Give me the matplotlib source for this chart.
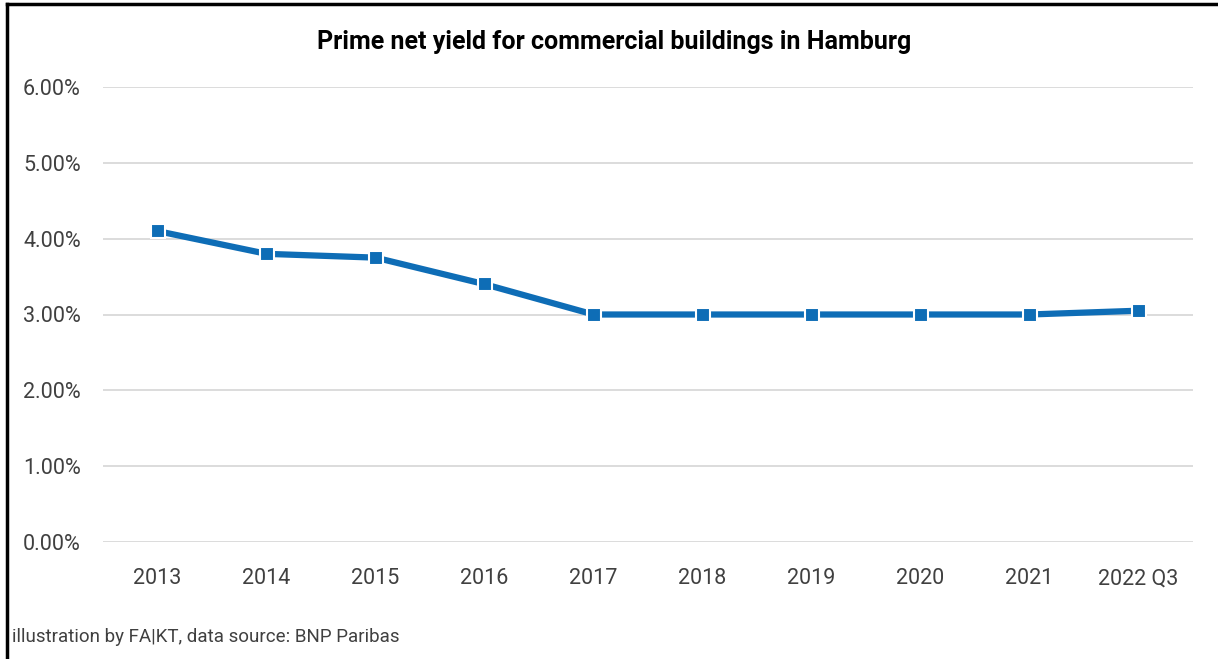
import matplotlib
matplotlib.use('Agg')
from matplotlib import pyplot as plt
from matplotlib.lines import Line2D
import matplotlib.ticker as ticker

plt.rcParams['font.family'] = ['Liberation Sans Narrow', 'Roboto', 'DejaVu Sans']

categories = ['2013', '2014', '2015', '2016', '2017', '2018', '2019', '2020', '2021', '2022 Q3']
yields = [4.10, 3.80, 3.75, 3.40, 3.00, 3.00, 3.00, 3.00, 3.00, 3.05]
y_ticks = [0, 1, 2, 3, 4, 5, 6]

W, H = 1218, 659
fig = plt.figure(figsize=(W / 100, H / 100), dpi=100)
ax = fig.add_axes([103 / W, 1 - 542 / H, 1090 / W, 455 / H])

x = list(range(len(categories)))
ax.plot(x, yields, color='#0e6db6', linewidth=4.5, marker='s', markersize=9.5,
        markerfacecolor='#0e6db6', markeredgecolor='white', markeredgewidth=1.5,
        solid_capstyle='butt', zorder=3)

ax.set_xlim(-0.5, len(categories) - 0.5)
ax.set_ylim(0, 6)
ax.set_yticks(y_ticks)
ax.yaxis.set_major_formatter(ticker.FuncFormatter(lambda v, p: f'{v:.2f}%'))
ax.set_xticks(x)
ax.set_xticklabels(categories)
ax.grid(axis='y', color='#d9d9d9', linewidth=1.3)
ax.set_axisbelow(True)
for s in ax.spines.values():
    s.set_visible(False)
ax.tick_params(axis='both', length=0, labelsize=15.5, colors='#404040')
ax.tick_params(axis='y', pad=16)
ax.tick_params(axis='x', pad=19)

fig.text(614 / W, 1 - 42 / H, 'Prime net yield for commercial buildings in Hamburg',
         ha='center', va='center', fontsize=18, fontweight='bold', color='black')
fig.text(12 / W, 1 - 637 / H, 'illustration by FA|KT, data source: BNP Paribas',
         ha='left', va='center', fontsize=13.5, color='#404040')

# outer frame (left and top edges)
fig.add_artist(Line2D([7 / W, 7 / W], [0, 1 - 4 / H], color='black', linewidth=2.5,
                      transform=fig.transFigure))
fig.add_artist(Line2D([7 / W, 1], [1 - 4 / H, 1 - 4 / H], color='black', linewidth=2.5,
                      transform=fig.transFigure))

fig.savefig('out.png', dpi=100, facecolor='white')
